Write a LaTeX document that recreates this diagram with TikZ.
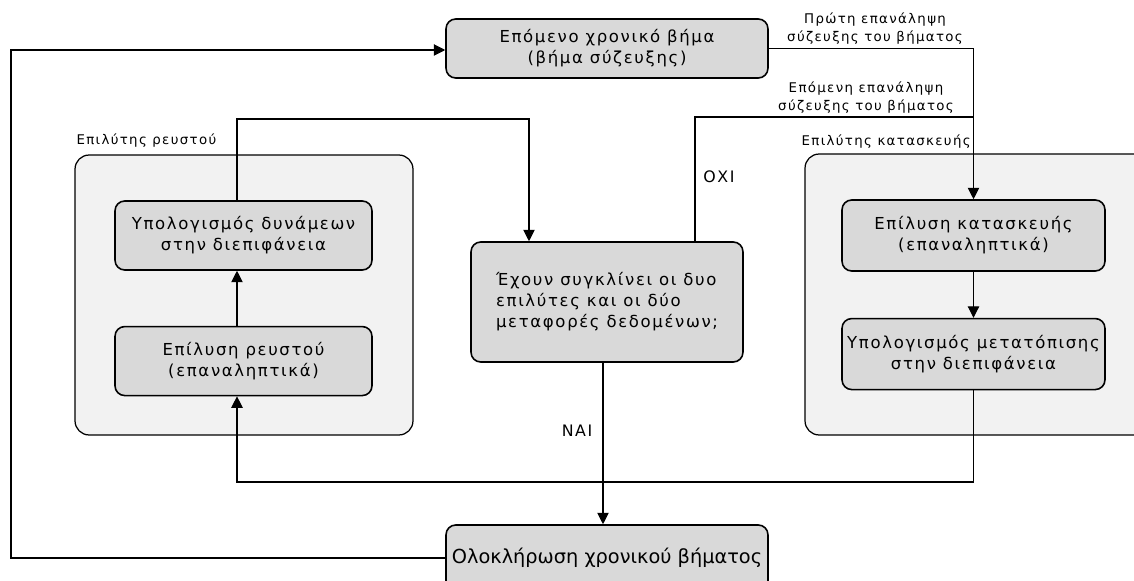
\documentclass[tikz,border=0pt]{standalone}
\usepackage{fontspec}
\setmainfont{DejaVu Sans}[LetterSpace=10]
\usetikzlibrary{arrows.meta, positioning}
\definecolor{boxgray}{HTML}{D9D9D9}
\definecolor{solverbg}{HTML}{F2F2F2}

\begin{document}
\begin{tikzpicture}[
    x=0.02cm, y=-0.02cm,
    box/.style={
        draw,
        rectangle,
        rounded corners=5.5pt,
        line width=0.9pt,
        fill=boxgray,
        align=center,
        font=\fontsize{9.4}{11.9}\selectfont,
        minimum width=5.14cm,
        minimum height=1.38cm,
        inner sep=1pt
    },
    solver/.style={
        draw,
        rectangle,
        rounded corners=8pt,
        line width=0.7pt,
        fill=solverbg
    },
    small/.style={
        font=\fontsize{7.6}{10.2}\selectfont,
        align=center,
        inner sep=0pt
    },
    arrow/.style={
        -{Triangle[length=6.5pt,width=6.5pt]},
        line width=0.6pt
    },
    node distance=1cm and 0.1cm
]
\useasboundingbox (0,0) rectangle (1134,581);

% Solvers
\node[solver, minimum width=6.76cm, minimum height=5.6cm] (fluid) at (244,295) {};
\node[solver, minimum width=6.9cm, minimum height=5.62cm] (struct) at (977.5,294.5) {};
\node[small, above right=4pt and 1pt of fluid.north west] (fluidlabel) {Επιλύτης ρευστού};
\node[small, anchor=east] (structlabel) at (971,142) {Επιλύτης κατασκευής};

% Top
\node[box, minimum width=6.44cm, minimum height=1.18cm] (next) at (607,48.5) {Επόμενο χρονικό βήμα\\(βήμα σύζευξης)};

% Fluid
\node[box] (forces) at (243.5,235.5) {Υπολογισμός δυνάμεων\\στην διεπιφάνεια};
\node[box, below=1.1cm of forces] (fluidsolve) {Επίλυση ρευστού\\(επαναληπτικά)};

% Structure
\node[box, minimum width=5.26cm, minimum height=1.42cm] (structsolve) at (973.5,235.5) {Επίλυση κατασκευής\\(επαναληπτικά)};
\node[box, minimum width=5.26cm, minimum height=1.42cm, below=0.92cm of structsolve] (disp) {Υπολογισμός μετατόπισης\\στην διεπιφάνεια};

% Check
\node[box, minimum width=5.44cm, minimum height=2.4cm, align=left] (decision) at (607,302) {Έχουν συγκλίνει οι δυο\\επιλύτες και οι δύο\\μεταφορές δεδομένων;};

% Bottom
\node[box, minimum width=6.44cm, minimum height=1.32cm, font=\fontsize{11}{13}\selectfont\addfontfeature{LetterSpace=0}] (end) at (607,558) {Ολοκλήρωση χρονικού βήματος};

% Labels
\node[small] (firstiter) at (875,29) {Πρώτη επανάληψη\\σύζευξης του βήματος};
\node[small] (nextiter) at (866,98) {Επόμενη επανάληψη\\σύζευξης του βήματος};
\node[small, font=\fontsize{9}{10}\selectfont] (no) at (719,177) {ΟΧΙ};
\node[small, font=\fontsize{9}{10}\selectfont] (yes) at (577,431) {ΝΑΙ};

% Connectors
\coordinate (upL) at (237,119);
\coordinate (upR) at (529,119);
\coordinate (backL) at (237,482);
\coordinate (noR) at (695,117);
\coordinate (yesX) at (603,0);
\coordinate (loopL) at (11,50);

\draw[arrow] (next.east) -| (structsolve.north);
\draw[arrow] (structsolve) -- (disp);
\draw[arrow] (disp.south) |- (backL) -- (fluidsolve.south -| backL);
\draw[arrow] (fluidsolve.north -| upL) -- (forces.south -| upL);
\draw[arrow] (forces.north -| upL) -- (upL) -- (upR) -- (decision.north -| upR);
\draw[line width=0.6pt] (decision.north -| noR) -- (noR) -- (structsolve.north |- noR);
\draw[arrow] (decision.south -| yesX) -- (end.north -| yesX);
\draw[arrow] (end.west) -| (loopL) -- (next.west |- loopL);

\end{tikzpicture}
\end{document}
